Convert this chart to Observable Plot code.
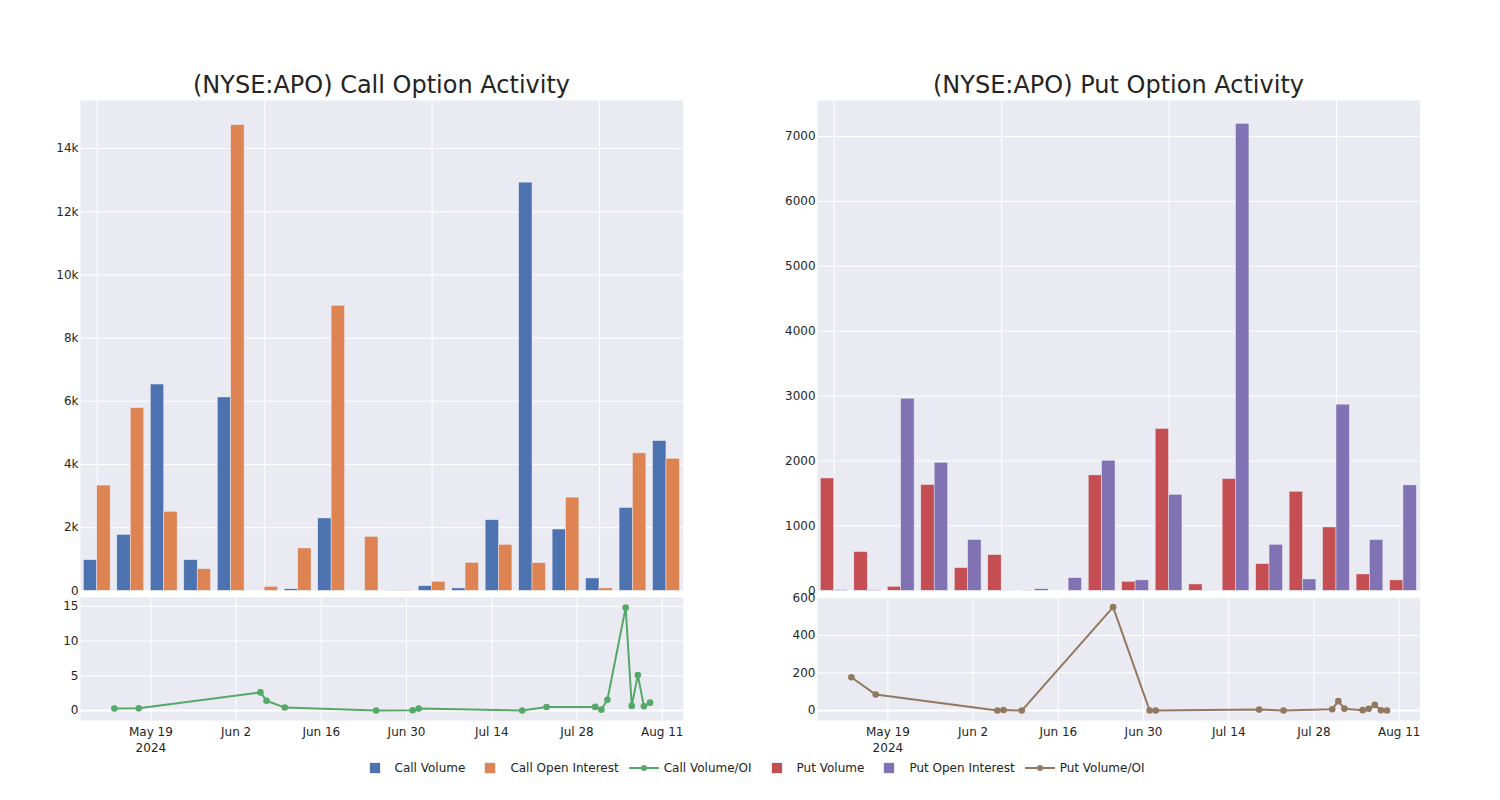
<!DOCTYPE html>
<html>
<head>
<meta charset="utf-8">
<script src="https://cdn.jsdelivr.net/npm/d3@7"></script>
<script src="https://cdn.jsdelivr.net/npm/@observablehq/plot@0.6"></script>
<style>
  html, body { margin: 0; padding: 0; background: #fff; }
  #root { position: relative; width: 1500px; height: 800px; font-family: "DejaVu Sans", sans-serif; color: rgb(36,36,36); }
  .title { position: absolute; top: 71px; font-size: 24px; text-align: center; white-space: nowrap; transform: translateX(-50%); }
  .panel { position: absolute; }
  #legend { position: absolute; top: 760px; left: 0; width: 1504px; display: flex; justify-content: center; font-size: 12px; }
  .item { display: flex; align-items: center; margin-right: 5px; height: 16px; }
  .sym { width: 40px; height: 16px; position: relative; }
  .sq { position: absolute; left: 14px; top: 2px; width: 12px; height: 12px; box-sizing: border-box; border: 0.5px solid #EAEAF2; }
  .ln { position: absolute; left: 5px; top: 7px; width: 30px; height: 2px; }
  .dt { position: absolute; left: 17px; top: 5px; width: 6px; height: 6px; border-radius: 50%; }
</style>
</head>
<body>
<div id="root">
  <div class="title" style="left:381.5px">(NYSE:APO) Call Option Activity</div>
  <div class="title" style="left:1118.5px">(NYSE:APO) Put Option Activity</div>
  <div id="callBar" class="panel" style="left:0px;top:90px"></div>
  <div id="callLine" class="panel" style="left:0px;top:590px"></div>
  <div id="putBar" class="panel" style="left:736.7px;top:90px"></div>
  <div id="putLine" class="panel" style="left:736.7px;top:590px"></div>
  <div id="legend"></div>
</div>
<script>
// ---- data ----
const dates = ["2024-05-13","2024-05-17","2024-06-06","2024-06-07","2024-06-10","2024-06-25","2024-07-01","2024-07-02","2024-07-19","2024-07-23","2024-07-31","2024-08-01","2024-08-02","2024-08-05","2024-08-06","2024-08-07","2024-08-08","2024-08-09"];
const callVolume = [970,1770,6530,970,6120,0,50,2290,0,5,145,75,2235,12920,1940,390,2620,4740];
const callOpenInterest = [3330,5780,2500,685,14740,125,1340,9020,1705,10,285,885,1455,875,2950,75,4350,4180];
const callVolumeOI = [0.29,0.31,2.6,1.41,0.42,0,0.04,0.27,0,0.5,0.52,0.12,1.54,14.8,0.66,5.1,0.6,1.13];
const putVolume = [1731,597,62,1630,350,550,2,0,1778,139,2493,98,1722,411,1526,976,252,160];
const putOpenInterest = [10,7,2960,1973,782,1,25,195,2004,160,1480,2,7195,709,175,2868,782,1624];
const putVolumeOI = [177,85,0,3,0,550,0,0,5,0,7,50,10,2,9,30,1,0];

const callBarTicks = [0,2000,4000,6000,8000,10000,12000,14000];
const putBarTicks = [0,1000,2000,3000,4000,5000,6000,7000];
const callLineTicks = [0,5,10,15];
const putLineTicks = [0,200,400,600];
const dateTicks = ["2024-05-19","2024-06-02","2024-06-16","2024-06-30","2024-07-14","2024-07-28","2024-08-11"];
const dateDomain = ["2024-05-07T10:30:00Z","2024-08-14T10:50:00Z"];

const colors = {
  callVol: "rgb(76,114,176)", callOI: "rgb(221,132,82)", callRatio: "rgb(85,168,104)",
  putVol: "rgb(196,78,82)", putOI: "rgb(129,114,179)", putRatio: "rgb(147,120,96)"
};
const BG = "#EAEAF2";

// ---- derived tables ----
const rows = dates.map((d, i) => ({
  cat: d, date: new Date(d),
  cv: callVolume[i], coi: callOpenInterest[i], cr: callVolumeOI[i],
  pv: putVolume[i], poi: putOpenInterest[i], pr: putVolumeOI[i]
}));
const catGrid = dates.filter((d, i) => i % 5 === 0);
const tickDates = dateTicks.map(d => new Date(d));
const domainDates = dateDomain.map(d => new Date(d));
const fmtDay = d3.utcFormat("%b %-d");

const W = 700, ML = 80, MR = 17.3;
const bw = (W - ML - MR) / dates.length;
const style = {fontFamily: "DejaVu Sans", fontSize: "12px", color: "rgb(36,36,36)", background: "transparent", overflow: "visible"};

function barChart(vKey, oiKey, vColor, oiColor, yMax, ticks, tickFormat) {
  return Plot.plot({
    width: W, height: 500.3,
    marginLeft: ML, marginRight: MR, marginTop: 10, marginBottom: 0,
    style,
    x: {type: "band", domain: dates, padding: 0, round: false, axis: null},
    y: {domain: [0, yMax]},
    marks: [
      Plot.frame({fill: BG, stroke: "none"}),
      Plot.gridY(ticks, {stroke: "white", strokeOpacity: 1, strokeWidth: 1}),
      Plot.gridX(catGrid, {stroke: "white", strokeOpacity: 1, strokeWidth: 1}),
      Plot.axisY(ticks, {tickSize: 0, tickPadding: 2, tickFormat, label: null}),
      Plot.barY(rows, {x: "cat", y: vKey, fill: vColor, stroke: BG, strokeWidth: 0.5,
        insetLeft: bw * 0.1, insetRight: bw * 0.5}),
      Plot.barY(rows, {x: "cat", y: oiKey, fill: oiColor, stroke: BG, strokeWidth: 0.5,
        insetLeft: bw * 0.5, insetRight: bw * 0.1})
    ]
  });
}

function lineChart(key, color, yDomain, ticks) {
  return Plot.plot({
    width: W, height: 170,
    marginLeft: ML, marginRight: MR, marginTop: 6.7, marginBottom: 40,
    style,
    x: {type: "utc", domain: domainDates},
    y: {domain: yDomain},
    marks: [
      Plot.frame({fill: BG, stroke: "none"}),
      Plot.gridY(ticks, {stroke: "white", strokeOpacity: 1, strokeWidth: 1}),
      Plot.ruleY([0], {stroke: "white", strokeWidth: 2}),
      Plot.gridX(tickDates, {stroke: "white", strokeOpacity: 1, strokeWidth: 1}),
      Plot.axisY(ticks, {tickSize: 0, tickPadding: 2, label: null}),
      Plot.axisX(tickDates, {tickSize: 0, tickPadding: 4.5, lineHeight: 1.33, label: null,
        tickFormat: d => (+d === +tickDates[0] ? fmtDay(d) + "\n2024" : fmtDay(d))}),
      Plot.line(rows, {x: "date", y: key, stroke: color, strokeWidth: 2}),
      Plot.dot(rows, {x: "date", y: key, fill: color, r: 3.3, stroke: "none"})
    ]
  });
}

document.getElementById("callBar").append(barChart("cv", "coi", colors.callVol, colors.callOI, 15520, callBarTicks, d3.format("~s")));
document.getElementById("putBar").append(barChart("pv", "poi", colors.putVol, colors.putOI, 7555, putBarTicks, d3.format("d")));
document.getElementById("callLine").append(lineChart("cr", colors.callRatio, [-1.44, 16.3], callLineTicks));
document.getElementById("putLine").append(lineChart("pr", colors.putRatio, [-53, 603], putLineTicks));

// ---- legend ----
const legendItems = [
  {label: "Call Volume", color: colors.callVol, kind: "sq"},
  {label: "Call Open Interest", color: colors.callOI, kind: "sq"},
  {label: "Call Volume/OI", color: colors.callRatio, kind: "ln"},
  {label: "Put Volume", color: colors.putVol, kind: "sq"},
  {label: "Put Open Interest", color: colors.putOI, kind: "sq"},
  {label: "Put Volume/OI", color: colors.putRatio, kind: "ln"}
];
const legend = document.getElementById("legend");
for (const it of legendItems) {
  const item = document.createElement("div");
  item.className = "item";
  const sym = document.createElement("div");
  sym.className = "sym";
  if (it.kind === "sq") {
    sym.innerHTML = `<div class="sq" style="background:${it.color}"></div>`;
  } else {
    sym.innerHTML = `<div class="ln" style="background:${it.color}"></div><div class="dt" style="background:${it.color}"></div>`;
  }
  const txt = document.createElement("span");
  txt.textContent = it.label;
  item.append(sym, txt);
  legend.append(item);
}
</script>
</body>
</html>
